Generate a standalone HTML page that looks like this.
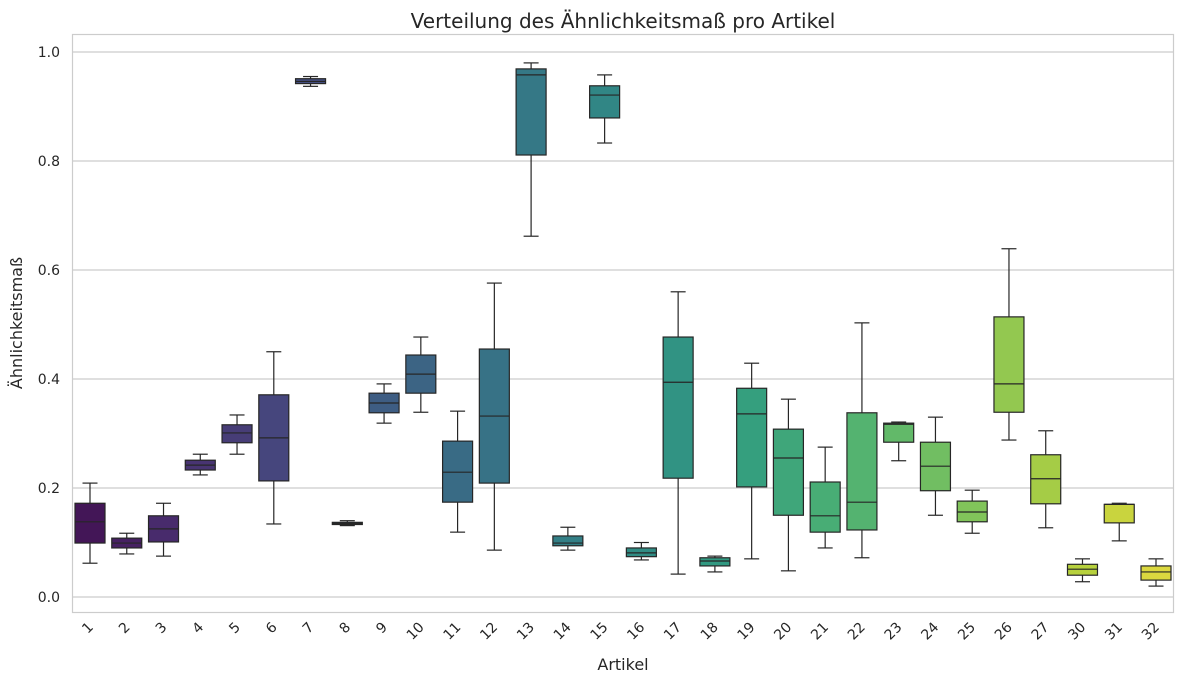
<!DOCTYPE html>
<html><head><meta charset="utf-8"><style>
body{margin:0;background:#fff;font-family:"Liberation Sans","DejaVu Sans",sans-serif}
svg text{font-family:"DejaVu Sans","Liberation Sans",sans-serif;fill:#262626}
</style></head><body>
<svg id="chart" width="1184" height="684" xmlns="http://www.w3.org/2000/svg">
<text x="623" y="28" text-anchor="middle" font-size="20">Verteilung des Ähnlichkeitsmaß pro Artikel</text>
<text x="623" y="670" text-anchor="middle" font-size="16">Artikel</text>
<text transform="translate(22,323) rotate(-90)" text-anchor="middle" font-size="16">Ähnlichkeitsmaß</text>
<g id="grid"></g><g id="boxes"></g><g id="ticks"></g>
<rect x="72.5" y="34.5" width="1101" height="578" fill="none" stroke="#ccc" stroke-width="1.2"/>
</svg>
<script>
const categories=["1","2","3","4","5","6","7","8","9","10","11","12","13","14","15","16","17","18","19","20","21","22","23","24","25","26","27","30","31","32"];
const whiskerLow=[0.062,0.079,0.075,0.224,0.262,0.134,0.937,0.131,0.319,0.339,0.119,0.086,0.662,0.086,0.833,0.068,0.042,0.046,0.07,0.048,0.09,0.072,0.25,0.15,0.117,0.288,0.127,0.028,0.103,0.02];
const q1=[0.099,0.09,0.101,0.233,0.283,0.213,0.942,0.133,0.338,0.374,0.174,0.209,0.811,0.094,0.879,0.074,0.218,0.057,0.202,0.15,0.119,0.123,0.284,0.195,0.138,0.339,0.171,0.04,0.136,0.031];
const median=[0.138,0.099,0.125,0.242,0.301,0.292,0.946,0.135,0.356,0.409,0.229,0.332,0.958,0.099,0.921,0.081,0.394,0.066,0.336,0.255,0.149,0.174,0.317,0.24,0.156,0.391,0.217,0.051,0.17,0.046];
const q3=[0.172,0.108,0.149,0.251,0.316,0.371,0.951,0.137,0.374,0.444,0.286,0.455,0.969,0.112,0.938,0.09,0.477,0.072,0.383,0.308,0.211,0.338,0.319,0.284,0.176,0.514,0.261,0.06,0.17,0.057];
const whiskerHigh=[0.209,0.117,0.172,0.262,0.334,0.45,0.955,0.14,0.391,0.477,0.341,0.576,0.98,0.128,0.958,0.1,0.56,0.075,0.429,0.363,0.275,0.503,0.321,0.33,0.196,0.639,0.305,0.07,0.172,0.07];
const yTicks=[0,0.2,0.4,0.6,0.8,1.0];
const NS="http://www.w3.org/2000/svg";
const y=v=>597-v*545;
const x=i=>90+i*(1066/(categories.length-1));
const anchors=["#440154","#482475","#414487","#355f8d","#2a788e","#21918c","#22a884","#44bf70","#7ad151","#bddf26","#fde725"];
function hex(h){return [1,3,5].map(k=>parseInt(h.substr(k,2),16));}
function viridis(t){const p=t*10,i=Math.min(9,Math.floor(p)),f=p-i;const a=hex(anchors[i]),b=hex(anchors[i+1]);
 let c=a.map((v,k)=>v+(b[k]-v)*f);const g=(c[0]+c[1]+c[2])/3;c=c.map(v=>Math.round(g+(v-g)*0.8));return `rgb(${c})`;}
function mk(tag,attrs,parent){const e=document.createElementNS(NS,tag);for(const k in attrs)e.setAttribute(k,attrs[k]);parent.appendChild(e);return e;}
const grid=document.getElementById('grid'),boxes=document.getElementById('boxes'),ticks=document.getElementById('ticks');
yTicks.forEach(v=>{
 const l=mk('line',{x1:73,x2:1173,y1:y(v),y2:y(v),stroke:'#ccc','stroke-width':1.2},grid);
 
 
 const t=mk('text',{x:60,y:y(v)+5,'text-anchor':'end','font-size':14},ticks);
 t.textContent=v.toFixed(1);
 
 
});
const n=categories.length,w=30;
categories.forEach((c,i)=>{
 const cx=x(i),col=viridis((i+1)/(n+1));
 const g=mk('g',{},boxes);
 
 
 const st={stroke:'#262626','stroke-width':1.2};
 mk('line',Object.assign({x1:cx,x2:cx,y1:y(whiskerHigh[i]),y2:y(q3[i])},st),g);
 mk('line',Object.assign({x1:cx,x2:cx,y1:y(q1[i]),y2:y(whiskerLow[i])},st),g);
 mk('line',Object.assign({x1:cx-7.5,x2:cx+7.5,y1:y(whiskerHigh[i]),y2:y(whiskerHigh[i])},st),g);
 mk('line',Object.assign({x1:cx-7.5,x2:cx+7.5,y1:y(whiskerLow[i]),y2:y(whiskerLow[i])},st),g);
 mk('rect',Object.assign({x:cx-w/2,y:y(q3[i]),width:w,height:Math.max(0.5,y(q1[i])-y(q3[i])),fill:col},st),g);
 mk('line',Object.assign({x1:cx-w/2,x2:cx+w/2,y1:y(median[i]),y2:y(median[i])},st),g);
 const t=mk('text',{transform:`translate(${cx+4},${628}) rotate(-45)`,'text-anchor':'end','font-size':14},ticks);
 t.textContent=c;
 
 
});
</script>
</body></html>
